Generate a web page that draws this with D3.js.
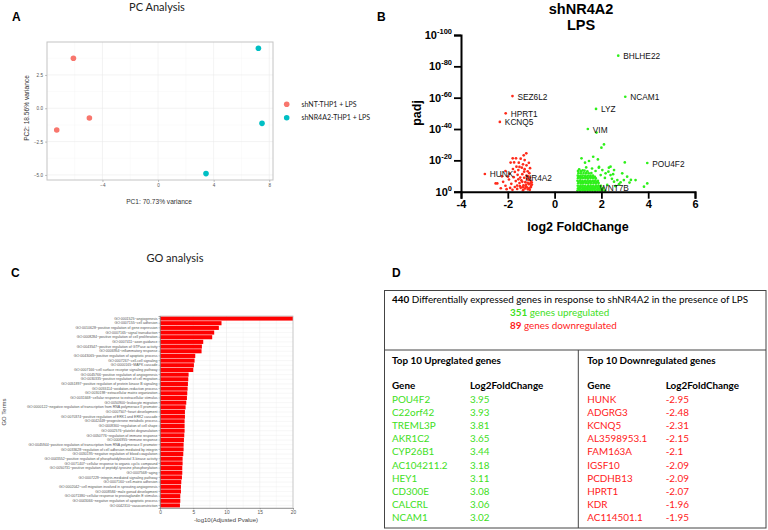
<!DOCTYPE html>
<html><head><meta charset="utf-8">
<script src="https://cdn.jsdelivr.net/npm/d3@7"></script>
<style>body{margin:0;background:#fff} svg{display:block}</style>
</head><body><svg id="c" width="768" height="530"></svg>
<script>
// ---------- Panel A: PCA ----------
const pcaGroups = ["shNT-THP1 + LPS", "shNR4A2-THP1 + LPS"];
const pcaGroupColors = ["#F8766D", "#00BFC4"];
const pcaPC1 = [-6.09, -4.94, -7.29, 7.22, 7.48, 3.45];
const pcaPC2 = [3.75, -0.73, -1.63, 4.5, -1.13, -4.9];
const pcaGroupIdx = [0, 0, 0, 1, 1, 1];
const pcaXTicks = [-4, 0, 4, 8];
const pcaYTicks = [-5, -2.5, 0, 2.5];

// ---------- Panel B: volcano ----------
const volXTicks = [-4, -2, 0, 2, 4, 6];
const volYTicks = [0, 20, 40, 60, 80, 100];
const downFC = [-2.98,-1.80,-2.09,-2.34,-1.47,-1.21,-1.79,-1.65,-1.45,-1.73,-1.53,-1.88,-1.32,-2.10,-1.92,-1.70,-1.55,-1.40,-1.28,-1.15,-1.05,-1.20,-1.35,-2.45,-2.20,-2.10,-1.95,-1.85,-1.75,-1.66,-1.60,-1.50,-1.42,-1.38,-1.33,-1.30,-1.25,-1.20,-1.18,-1.12,-1.10,-1.08,-1.05,-1.02,-0.98,-1.00,-1.14,-1.27,-1.45,-1.60,-1.70,-1.90,-2.05,-1.35,-1.06,-1.22,-1.48,-1.58,-1.78,-1.63,-1.10,-1.28,-1.50,-2.25,-2.00,-1.15,-1.02,-1.38,-1.30,-1.80,-2.30,-1.55,-1.13,-2.52,-1.24,-1.09,-0.97,-1.17,-1.04,-1.36];
const downP  = [11.3,61.0,50.0,44.5,9.0,24.5,21.3,21.3,21.1,18.7,18.5,18.6,23.2,13.2,11.5,12.6,13.8,15.3,14.4,13.0,15.0,16.8,17.5,5.3,6.3,3.8,7.8,5.0,9.3,6.8,3.9,5.5,7.2,11.2,4.1,8.9,6.1,10.3,2.7,7.6,4.8,11.8,9.0,2.9,6.0,3.8,1.5,2.0,2.5,1.8,3.0,2.4,1.6,1.0,1.2,4.4,3.5,10.8,14.5,16.0,18.4,20.2,15.8,9.8,9.6,5.7,7.0,6.3,12.8,1.2,2.2,7.9,9.8,5.3,3.1,2.2,4.6,8.2,5.3,2.9];
const upFC = [2.72,3.02,1.77,1.42,3.96,1.72,1.79,2.11,2.00,1.15,1.30,1.65,1.47,1.85,2.32,2.54,2.18,2.89,3.10,2.68,2.96,3.46,3.82,3.96,2.54,2.25,2.39,2.04,1.97,2.82,2.60,3.00,1.90,2.15,2.45,1.60,1.35,1.20,1.05,1.75,2.75,3.20,2.30,2.50,3.26,1.89,2.39,
 0.98,1.09,1.20,1.30,1.41,1.52,1.62,1.73,1.84,1.95,2.05,2.16,
 1.00,1.10,1.21,1.32,1.42,1.53,1.64,1.75,1.86,1.96,2.08,
 0.99,1.10,1.20,1.31,1.43,1.54,1.65,1.76,1.87,1.98,
 1.01,1.12,1.22,1.33,1.44,1.55,1.66,1.77,1.88,
 0.98,1.09,1.19,1.30,1.41,1.52,1.63,1.74,1.85,
 1.00,1.11,1.21,1.32,1.43,1.54,1.65,1.76,
 0.99,1.10,1.20,1.31,1.42,1.53,1.64,
 1.02,1.13,1.24,1.35,1.46,1.57,
 1.00,1.12,1.28,1.40,
 1.04,1.15,1.26,1.37,1.48,1.59,1.70,1.81,1.92,2.02,
 1.06,1.17,1.27,1.38,1.49,1.60,1.71,1.82,1.93,
 1.03,1.14,1.25,1.36,1.47,1.58,1.69,1.80,
 1.05,1.16,1.29,1.39,1.51,1.61,1.72];
const upP = [86.8,60.6,52.8,40.0,18.3,2.4,37.7,30.2,28.1,21.3,18.5,22.3,19.6,20.6,15.3,13.8,11.7,11.7,9.6,7.4,7.4,7.4,3.2,5.3,6.4,4.3,10.6,13.8,10.6,6.0,3.5,18.7,15.8,8.8,8.2,14.8,15.5,13.6,14.3,13.2,4.8,5.8,12.8,11.2,7.5,15.3,16.0,
 0.7,0.6,0.8,0.7,0.6,0.8,0.7,0.6,0.8,0.7,0.9,0.6,
 2.2,2.3,2.1,2.2,2.3,2.1,2.2,2.4,2.2,2.1,2.3,
 3.8,3.7,3.9,3.8,3.7,3.9,3.8,3.7,3.9,3.8,
 5.4,5.3,5.5,5.4,5.3,5.5,5.4,5.3,5.5,
 7.0,7.1,6.9,7.0,7.1,6.9,7.0,7.1,6.9,
 8.6,8.5,8.7,8.6,8.5,8.7,8.6,8.5,
 10.2,10.1,10.3,10.2,10.1,10.3,10.2,
 11.8,11.7,11.9,11.8,11.7,11.9,
 13.2,13.1,13.4,13.0,
 1.5,1.4,1.6,1.5,1.4,1.6,1.5,1.4,1.6,1.5,
 3.0,3.1,2.9,3.0,3.1,2.9,3.0,3.1,2.9,
 6.2,6.1,6.3,6.2,6.1,6.3,6.2,6.1,
 9.4,9.3,9.5,9.4,9.3,9.5,9.4];
const volLabels = ["BHLHE22","NCAM1","LYZ","VIM","POU4F2","WNT7B","SEZ6L2","HPRT1","KCNQ5","HUNK","NR4A2"];
const volLabelFC = [2.72,3.02,1.77,1.42,3.96,1.72,-1.80,-2.09,-2.34,-2.98,-1.47];
const volLabelP  = [86.8,60.6,52.8,40.0,18.3,2.4,61.0,50.0,44.5,11.3,9.0];

// ---------- Panel C: GO ----------
const goTerms = [
"GO:0001525~angiogenesis","GO:0007155~cell adhesion","GO:0010628~positive regulation of gene expression",
"GO:0007165~signal transduction","GO:0008284~positive regulation of cell proliferation","GO:0007411~axon guidance",
"GO:0043547~positive regulation of GTPase activity","GO:0006954~inflammatory response","GO:0043065~positive regulation of apoptotic process",
"GO:0007267~cell-cell signaling","GO:0000165~MAPK cascade","GO:0007166~cell surface receptor signaling pathway",
"GO:0045766~positive regulation of angiogenesis","GO:0030335~positive regulation of cell migration","GO:0051897~positive regulation of protein kinase B signaling",
"GO:0055114~oxidation-reduction process","GO:0030198~extracellular matrix organization","GO:0031668~cellular response to extracellular stimulus",
"GO:0050900~leukocyte migration","GO:0000122~negative regulation of transcription from RNA polymerase II promoter","GO:0007507~heart development",
"GO:0070374~positive regulation of ERK1 and ERK2 cascade","GO:0042448~progesterone metabolic process","GO:0008360~regulation of cell shape",
"GO:0002576~platelet degranulation","GO:0050776~regulation of immune response","GO:0006955~immune response",
"GO:0045944~positive regulation of transcription from RNA polymerase II promoter","GO:0033628~regulation of cell adhesion mediated by integrin","GO:0030195~negative regulation of blood coagulation",
"GO:0043552~positive regulation of phosphatidylinositol 3-kinase activity","GO:0071407~cellular response to organic cyclic compound","GO:0050731~positive regulation of peptidyl-tyrosine phosphorylation",
"GO:0007568~aging","GO:0007229~integrin-mediated signaling pathway","GO:0007160~cell-matrix adhesion",
"GO:0002042~cell migration involved in sprouting angiogenesis","GO:0008584~male gonad development","GO:0071380~cellular response to prostaglandin E stimulus",
"GO:0043066~negative regulation of apoptotic process","GO:0042310~vasoconstriction"];
const goValues = [20,9.25,8.85,8.15,7.85,6.5,6.3,6.25,5.3,5.2,5.1,5.0,4.3,4.25,4.2,4.15,4.1,4.05,3.95,3.85,3.75,3.75,3.7,3.7,3.7,3.65,3.6,3.55,3.55,3.5,3.4,3.4,3.35,3.35,3.3,3.2,3.15,3.15,3.05,3.05,3.0];
const goTicks = [0,5,10,15,20];

// ---------- Panel D: table ----------
const totalDE = 440, nUp = 351, nDown = 89;
const upGenes = ["POU4F2","C22orf42","TREML3P","AKR1C2","CYP26B1","AC104211.2","HEY1","CD300E","CALCRL","NCAM1"];
const upLFC = ["3.95","3.93","3.81","3.65","3.44","3.18","3.11","3.08","3.06","3.02"];
const downGenes = ["HUNK","ADGRG3","KCNQ5","AL3598953.1","FAM163A","IGSF10","PCDHB13","HPRT1","KDR","AC114501.1"];
const downLFC = ["-2.95","-2.48","-2.31","-2.15","-2.1","-2.09","-2.09","-2.07","-1.96","-1.95"];

const svg = d3.select("#c");
svg.append("rect").attr("width",768).attr("height",530).attr("fill","#fff");
const TF = "Lato, 'Open Sans', sans-serif";
const AF = "'Liberation Sans', Arial, sans-serif";

function letter(t,x,y){ svg.append("text").attr("x",x).attr("y",y).text(t)
  .attr("font-family",AF).attr("font-weight","bold").attr("font-size",12).attr("fill","#000"); }
letter("A",12,21); letter("B",377,21); letter("C",11,277); letter("D",392,277);

// ===== Panel A =====
{
  const g = svg.append("g");
  const x = d3.scaleLinear().domain([-7.99,8.27]).range([47,273]);
  const y = d3.scaleLinear().domain([-5.38,4.97]).range([180,42]);
  g.append("text").attr("x",157).attr("y",10.5).attr("text-anchor","middle")
    .attr("font-family",TF).attr("font-size",11).attr("fill","#222").text("PC Analysis");
  const minorX = [-6,-2,2,6], minorY = [-3.75,-1.25,1.25,3.75];
  g.selectAll(".mx").data(minorX).join("line").attr("x1",d=>x(d)).attr("x2",d=>x(d)).attr("y1",42).attr("y2",180).attr("stroke","#f4f4f4").attr("stroke-width",0.4);
  g.selectAll(".my").data(minorY).join("line").attr("y1",d=>y(d)).attr("y2",d=>y(d)).attr("x1",47).attr("x2",273).attr("stroke","#f4f4f4").attr("stroke-width",0.4);
  g.selectAll(".gx").data(pcaXTicks).join("line").attr("x1",d=>x(d)).attr("x2",d=>x(d)).attr("y1",42).attr("y2",180).attr("stroke","#ebebeb").attr("stroke-width",0.6);
  g.selectAll(".gy").data(pcaYTicks).join("line").attr("y1",d=>y(d)).attr("y2",d=>y(d)).attr("x1",47).attr("x2",273).attr("stroke","#ebebeb").attr("stroke-width",0.6);
  g.append("rect").attr("x",47).attr("y",42).attr("width",226).attr("height",138).attr("fill","none").attr("stroke","#c4c4c4").attr("stroke-width",1);
  const ax = g.append("g").attr("transform","translate(0,180)").call(d3.axisBottom(x).tickValues(pcaXTicks).tickSize(2).tickPadding(2).tickFormat(d3.format("d")));
  const ay = g.append("g").attr("transform","translate(47,0)").call(d3.axisLeft(y).tickValues(pcaYTicks).tickSize(2).tickPadding(2).tickFormat(d3.format(".1f")));
  [ax,ay].forEach(a=>{ a.select(".domain").remove(); a.selectAll("line").attr("stroke","#888").attr("stroke-width",0.5);
    a.selectAll("text").attr("font-family",AF).attr("font-size",4.6).attr("fill","#555"); });
  g.append("text").attr("x",159).attr("y",204).attr("text-anchor","middle").attr("font-family",AF).attr("font-size",6.6).attr("fill","#333").text("PC1: 70.73% variance");
  g.append("text").attr("transform","translate(29,108) rotate(-90)").attr("text-anchor","middle").attr("font-family",AF).attr("font-size",6.6).attr("fill","#333").text("PC2: 18.56% variance");
  g.selectAll(".pt").data(pcaPC1).join("circle").attr("cx",d=>x(d)).attr("cy",(d,i)=>y(pcaPC2[i])).attr("r",2.8)
    .attr("fill",(d,i)=>pcaGroupColors[pcaGroupIdx[i]]);
  pcaGroups.forEach((lab,i)=>{
    g.append("circle").attr("cx",286.7).attr("cy",104.3+i*13.4).attr("r",2.8).attr("fill",pcaGroupColors[i]);
    g.append("text").attr("x",301.5).attr("y",106.8+i*13.4).attr("font-family",TF).attr("font-size",7).attr("fill","#222").text(lab);
  });
}

// ===== Panel B =====
{
  const g = svg.append("g");
  const x = d3.scaleLinear().domain([-4,6]).range([461,695]);
  const y = d3.scaleLinear().domain([0,100]).range([191.7,35]);
  g.append("text").attr("x",581).attr("y",13.5).attr("text-anchor","middle").attr("font-family",AF).attr("font-weight","bold").attr("font-size",14.5).text("shNR4A2");
  g.append("text").attr("x",581).attr("y",30).attr("text-anchor","middle").attr("font-family",AF).attr("font-weight","bold").attr("font-size",14.5).text("LPS");
  g.selectAll(".dn").data(downFC).join("circle").attr("cx",d=>x(d)).attr("cy",(d,i)=>y(downP[i])).attr("r",1.35).attr("fill","#ff2a1a");
  g.selectAll(".up").data(upFC).join("circle").attr("cx",d=>x(d)).attr("cy",(d,i)=>y(upP[i])).attr("r",1.35).attr("fill","#2ef01a");
  const ax = g.append("g").attr("transform","translate(0,191.7)").call(d3.axisBottom(x).tickValues(volXTicks).tickSize(7).tickPadding(2).tickFormat(d3.format("d")));
  const ay = g.append("g").attr("transform","translate(461,0)").call(d3.axisLeft(y).tickValues(volYTicks).tickSize(7).tickPadding(2));
  [ax,ay].forEach(a=>{ a.select(".domain").attr("stroke","#000").attr("stroke-width",2);
    a.selectAll("line").attr("stroke","#000").attr("stroke-width",1.8);
    a.selectAll("text").attr("font-family",AF).attr("font-weight","bold").attr("font-size",11).attr("fill","#000"); });
  ax.selectAll("text").text(d=>d<0?"-"+Math.abs(d):String(d));
  ay.selectAll("text").each(function(d){
    const t = d3.select(this); t.text("10");
    t.append("tspan").attr("dy",-5).attr("font-size",7.5).text(d===0?"0":"-"+d);
  });
  g.append("text").attr("x",578).attr("y",230.5).attr("text-anchor","middle").attr("font-family",AF).attr("font-weight","bold").attr("font-size",12.5).text("log2 FoldChange");
  g.append("text").attr("transform","translate(421,113) rotate(-90)").attr("text-anchor","middle").attr("font-family",AF).attr("font-weight","bold").attr("font-size",12.5).text("padj");
  g.selectAll(".lab").data(volLabels).join("text").attr("x",(d,i)=>x(volLabelFC[i])+5).attr("y",(d,i)=>y(volLabelP[i])+3.5)
    .attr("font-family",AF).attr("font-size",8.3).attr("fill","#111").text(d=>d);
}

// ===== Panel C =====
{
  const g = svg.append("g");
  const x = d3.scaleLinear().domain([0,20]).range([160,293]);
  const y = d3.scaleBand().domain(goTerms).range([316,508]).paddingInner(0.12).paddingOuter(0.1);
  g.append("text").attr("x",175).attr("y",262).attr("text-anchor","middle").attr("font-family",TF).attr("font-size",11).attr("fill","#222").text("GO analysis");
  const minor = [2.5,7.5,12.5,17.5];
  g.selectAll(".mg").data(minor).join("line").attr("x1",d=>x(d)).attr("x2",d=>x(d)).attr("y1",316).attr("y2",508).attr("stroke","#f1f1f1").attr("stroke-width",0.4);
  g.selectAll(".gg").data(goTicks).join("line").attr("x1",d=>x(d)).attr("x2",d=>x(d)).attr("y1",316).attr("y2",508).attr("stroke","#e6e6e6").attr("stroke-width",0.5);
  g.selectAll(".hg").data(goTerms).join("line").attr("x1",160).attr("x2",293).attr("y1",d=>y(d)+y.bandwidth()/2).attr("y2",d=>y(d)+y.bandwidth()/2).attr("stroke","#ececec").attr("stroke-width",0.4);
  g.selectAll(".bar").data(goValues).join("rect").attr("x",160).attr("y",(d,i)=>y(goTerms[i])).attr("height",y.bandwidth())
    .attr("width",d=>x(d)-160).attr("fill","#ff0000");
  g.append("rect").attr("x",160).attr("y",316).attr("width",133).attr("height",192).attr("fill","none").attr("stroke","#bbb").attr("stroke-width",0.7);
  const ax = g.append("g").attr("transform","translate(0,508)").call(d3.axisBottom(x).tickValues(goTicks).tickSize(1.5).tickPadding(1.5));
  const ay = g.append("g").attr("transform","translate(160,0)").call(d3.axisLeft(y).tickSize(1.5).tickPadding(1));
  [ax,ay].forEach(a=>{ a.select(".domain").attr("stroke","#777").attr("stroke-width",0.6);
    a.selectAll("line").attr("stroke","#666").attr("stroke-width",0.4); });
  ax.selectAll("text").attr("font-family",AF).attr("font-size",4.8).attr("fill","#555");
  ay.selectAll("text").attr("font-family",AF).attr("font-size",3.55).attr("fill","#555");
  g.append("text").attr("x",226).attr("y",522).attr("text-anchor","middle").attr("font-family",AF).attr("font-size",6).attr("fill","#444").text("-log10(Adjusted Pvalue)");
  g.append("text").attr("transform","translate(6,412) rotate(-90)").attr("text-anchor","middle").attr("font-family",AF).attr("font-size",6).attr("fill","#444").text("GO Terms");
}

// ===== Panel D =====
{
  const g = svg.append("g");
  const GREEN = "#3ee01c", RED = "#ff1a1a";
  const lineC = "#444";
  g.append("rect").attr("x",384.5).attr("y",290.5).attr("width",381.5).attr("height",237.5).attr("fill","none").attr("stroke",lineC).attr("stroke-width",1);
  g.append("line").attr("x1",384.5).attr("x2",766).attr("y1",350).attr("y2",350).attr("stroke",lineC).attr("stroke-width",1);
  g.append("line").attr("x1",578.3).attr("x2",578.3).attr("y1",350).attr("y2",528).attr("stroke",lineC).attr("stroke-width",1);
  const FS = 9.9;
  const t1 = g.append("text").attr("x",392).attr("y",302.7).attr("font-family",TF).attr("font-size",FS).attr("fill","#000");
  t1.append("tspan").attr("font-weight","bold").text(totalDE);
  t1.append("tspan").text(" Differentially expressed genes in response to shNR4A2 in the presence of LPS");
  const t2 = g.append("text").attr("x",510).attr("y",316).attr("font-family",TF).attr("font-size",FS).attr("fill",GREEN);
  t2.append("tspan").attr("font-weight","bold").text(nUp); t2.append("tspan").text(" genes upregulated");
  const t3 = g.append("text").attr("x",510).attr("y",328.5).attr("font-family",TF).attr("font-size",FS).attr("fill",RED);
  t3.append("tspan").attr("font-weight","bold").text(nDown); t3.append("tspan").text(" genes downregulated");
  const hdr = (t,x,yy)=>g.append("text").attr("x",x).attr("y",yy).attr("font-family",TF).attr("font-weight","bold").attr("font-size",FS).attr("fill","#000").text(t);
  hdr("Top 10 Upreglated genes",392,364); hdr("Top 10 Downregulated genes",587.3,364);
  hdr("Gene",392,389.3); hdr("Log2FoldChange",470,389.3);
  hdr("Gene",587.3,389.3); hdr("Log2FoldChange",665.7,389.3);
  const rowY = i => 403.3 + i*13.04;
  g.selectAll(".ug").data(upGenes).join("text").attr("x",392).attr("y",(d,i)=>rowY(i)).attr("font-family",TF).attr("font-size",FS).attr("fill",GREEN).text(d=>d);
  g.selectAll(".uv").data(upLFC).join("text").attr("x",470).attr("y",(d,i)=>rowY(i)).attr("font-family",TF).attr("font-size",FS).attr("fill",GREEN).text(d=>d);
  g.selectAll(".dg").data(downGenes).join("text").attr("x",587.3).attr("y",(d,i)=>rowY(i)).attr("font-family",TF).attr("font-size",FS).attr("fill",RED).text(d=>d);
  g.selectAll(".dv").data(downLFC).join("text").attr("x",665.7).attr("y",(d,i)=>rowY(i)).attr("font-family",TF).attr("font-size",FS).attr("fill",RED).text(d=>d);
}
</script></body></html>
